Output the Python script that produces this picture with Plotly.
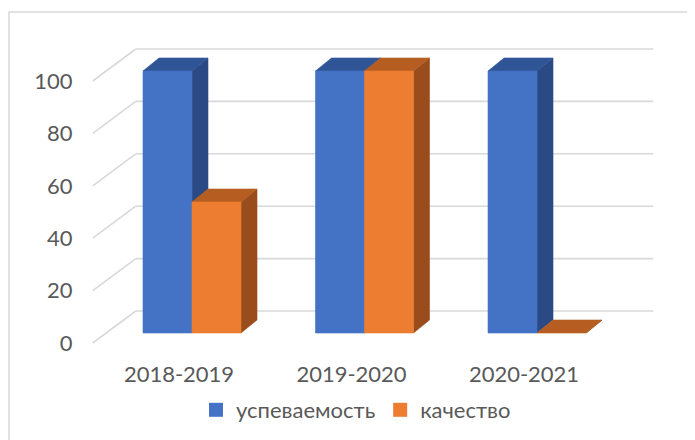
import plotly.graph_objects as go

# ---------------- data ----------------
categories = ["2018-2019", "2019-2020", "2020-2021"]
series_names = ["успеваемость", "качество"]
uspevaemost = [100, 100, 100]
kachestvo = [50, 100, 0]
y_ticks = [0, 20, 40, 60, 80, 100]

# ---------------- style ----------------
front_colors = ["#4472C4", "#ED7D31"]
top_colors = ["#2F5597", "#B65E22"]
side_colors = ["#2B4A85", "#9A4D1C"]
GRID = "#D9D9D9"
TEXT = "#595959"
FONT = "Lato, 'Liberation Sans', Arial, sans-serif"

OFF = 8                      # page body margin
W, H = 695 - OFF, 440 - OFF
# screen-space targets converted to figure space
ML = 75
MT = 0
PLOT_BOTTOM = 348 - OFF
MB = H - PLOT_BOTTOM
MR = 0
PX_X = 172.5                 # pixels per category step
PX_Y = 2.62                  # pixels per value unit
X0_PX, Y0_PX = 179 - OFF, 343 - OFF  # front-plane origin (category 0, value 0)

# 3-D projection offsets (in data units)
WALL_DX, WALL_DY = 43 / PX_X, 32 / PX_Y
BAR_FX, BAR_FY = 13 / PX_X, 10 / PX_Y
BAR_DX, BAR_DY = 16 / PX_X, 13 / PX_Y
BAR_W = 49 / PX_X

plot_w = W - ML - MR
plot_h = H - MT - MB
x_range = [(ML - X0_PX) / PX_X, (W - MR - X0_PX) / PX_X]
y_range = [(Y0_PX - (H - MB)) / PX_Y, (Y0_PX - MT) / PX_Y]

fig = go.Figure()

def poly(xs, ys, color):
    fig.add_trace(go.Scatter(
        x=xs + [xs[0]], y=ys + [ys[0]], mode="lines", fill="toself",
        fillcolor=color, line=dict(color=color, width=0.6),
        hoverinfo="skip", showlegend=False))

def line(xs, ys):
    fig.add_trace(go.Scatter(
        x=xs, y=ys, mode="lines", line=dict(color=GRID, width=1.6),
        hoverinfo="skip", showlegend=False))

# walls: back gridlines and left-side diagonals
x_left = -0.5
x_right = len(categories) - 0.5
for v in y_ticks:
    line([x_left + WALL_DX, x_right + WALL_DX], [v + WALL_DY, v + WALL_DY])
    line([x_left, x_left + WALL_DX], [v, v + WALL_DY])

# bars
series = [uspevaemost, kachestvo]
for i, _ in enumerate(categories):
    for s, vals in enumerate(series):
        v = vals[i]
        fx = i - BAR_W + s * BAR_W + BAR_FX
        b = BAR_FY
        # side face
        poly([fx + BAR_W, fx + BAR_W + BAR_DX, fx + BAR_W + BAR_DX, fx + BAR_W],
             [b, b + BAR_DY, b + v + BAR_DY, b + v], side_colors[s])
        # top face
        poly([fx, fx + BAR_W, fx + BAR_W + BAR_DX, fx + BAR_DX],
             [b + v, b + v, b + v + BAR_DY, b + v + BAR_DY], top_colors[s])
        # front face
        if v > 0:
            poly([fx, fx + BAR_W, fx + BAR_W, fx],
                 [b, b, b + v, b + v], front_colors[s])

# legend entries
for s, name in enumerate(series_names):
    fig.add_trace(go.Scatter(x=[None], y=[None], name=name, mode="markers",
                             marker=dict(symbol="square", size=14,
                                         color=front_colors[s]),
                             showlegend=True))

fig.update_layout(
    width=W, height=H,
    margin=dict(l=ML, r=MR, t=MT, b=MB, autoexpand=False),
    paper_bgcolor="white", plot_bgcolor="white",
    font=dict(family=FONT, size=22, color=TEXT),
    showlegend=True,
    legend=dict(orientation="h", x=(348 - ML) / plot_w, xanchor="center",
                y=(plot_h - (402 - MT)) / plot_h, yanchor="middle",
                itemsizing="trace",
                font=dict(size=22, color=TEXT), bgcolor="rgba(0,0,0,0)"),
    xaxis=dict(type="linear", range=x_range, tickvals=list(range(len(categories))),
               ticktext=categories, showgrid=False, zeroline=False, showline=False,
               ticks="outside", ticklen=7, tickcolor="rgba(0,0,0,0)", fixedrange=True),
    yaxis=dict(type="linear", range=y_range, tickvals=y_ticks, showgrid=False,
               zeroline=False, showline=False, ticks="outside", ticklen=5,
               tickcolor="rgba(0,0,0,0)", fixedrange=True),
    hovermode=False,
    shapes=[dict(type="rect", xref="paper", yref="paper",
                 x0=(9 - OFF - ML) / plot_w, x1=1.05,
                 y0=-0.5, y1=(plot_h - (12 - OFF - MT)) / plot_h,
                 line=dict(color=GRID, width=1.5), fillcolor="rgba(0,0,0,0)",
                 layer="below")],
)

fig.write_html("out.html")
